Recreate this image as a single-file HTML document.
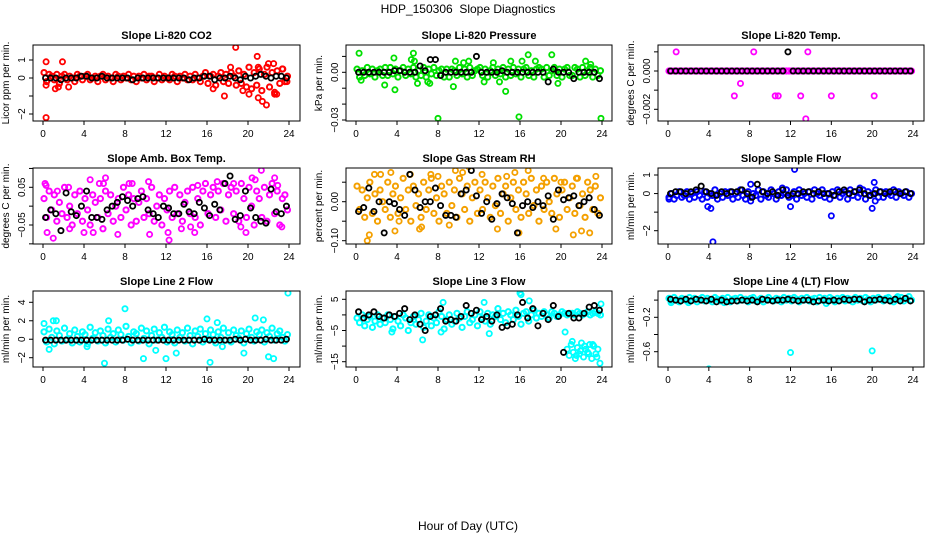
<!DOCTYPE html>
<html><head><meta charset="utf-8">
<style>
html,body{margin:0;padding:0;background:#fff;}
svg{display:block;font-family:"Liberation Sans",Arial,sans-serif;}
text{white-space:pre;}
</style></head>
<body>
<svg id="chart" width="936" height="540" viewBox="0 0 936 540" xmlns="http://www.w3.org/2000/svg">
<text x="468" y="13" font-size="12" text-anchor="middle">HDP_150306  Slope Diagnostics</text>
<text x="468" y="530" font-size="12" text-anchor="middle">Hour of Day (UTC)</text>
</svg>
<script>
// ---- data (hour of day on x) ----
const xTicks=[0,4,8,12,16,20,24];
// CO2
const co2Band=[0.3,-0.2,0.2,0.1,-0.1,0.2,-0.3,0.1,0.2,-0.1,0.1,0.0,
-0.2,0.2,0.1,-0.1,0.1,0.2,-0.1,0.0,0.1,-0.2,0.1,0.2,
-0.1,0.1,0.0,-0.2,0.2,0.1,-0.1,0.1,0.0,0.2,-0.1,0.1,
-0.2,0.1,0.0,0.2,-0.1,0.1,0.1,-0.2,0.0,0.2,-0.1,0.1,
0.0,-0.1,0.2,0.1,-0.2,0.1,0.0,0.2,-0.1,0.1,-0.1,0.2,
0.0,-0.2,0.1,0.3,-0.3,0.1,0.2,-0.4,0.1,0.3,-0.2,0.2,
-0.3,0.3,0.1,-0.4,0.4,-0.3,0.2,-0.5,0.6,-0.6,0.3,-0.4,
0.5,-0.7,0.2,0.6,-0.5,0.3,-0.8,0.4,-0.3,0.5,-0.2,0.1];
const co2OutT=[0.3,0.3,0.3,1.2,1.5,1.9,2.5,16.6,17.7,18.3,18.8,19.5,20.1,20.9,21.0,21.0,21.4,21.8,22.0,22.5,22.6,22.8,23.4,23.8];
const co2OutV=[0.9,-2.2,-0.4,-0.6,-0.5,0.9,-0.5,-0.6,-1.0,0.6,1.7,-0.7,-0.9,1.2,0.6,-1.1,-1.3,-1.5,0.8,0.8,-0.9,-0.9,0.5,-0.2];
const co2Mean=[0.0,0.0,0.0,-0.1,0.0,0.0,0.0,0.1,0.1,0.0,0.0,0.1,
0.0,0.0,0.0,0.0,0.0,-0.1,0.0,0.0,0.0,0.0,0.0,0.0,
0.0,0.0,0.0,0.0,-0.1,0.0,0.0,0.1,0.1,-0.1,0.0,0.0,
0.1,0.0,-0.1,0.1,0.0,0.1,0.2,0.1,0.0,0.1,0.1,0.0];
// Pressure
const prsBand=[0.002,-0.003,0.001,-0.002,0.003,-0.001,0.002,-0.003,0.001,0.002,-0.002,0.003,
-0.002,0.003,-0.001,0.002,-0.003,0.001,0.003,-0.002,0.002,-0.001,0.003,-0.003,
0.001,-0.002,0.003,-0.003,0.002,-0.001,0.003,-0.002,0.001,0.002,-0.003,0.002,
-0.003,0.002,0.001,-0.002,0.003,-0.001,0.002,-0.003,0.003,-0.002,0.001,0.002,
0.003,-0.002,0.002,-0.003,0.001,0.003,-0.002,0.002,-0.001,0.003,-0.003,0.002,
-0.002,0.003,-0.001,0.002,-0.003,0.002,0.003,-0.002,0.001,-0.003,0.002,0.003,
0.002,-0.003,0.003,-0.002,0.001,0.003,-0.002,0.002,-0.003,0.002,0.003,-0.002,
-0.002,0.003,0.002,-0.003,0.003,-0.002,0.001,0.003,-0.003,0.002,-0.002,0.001];
const prsOutT=[0.3,0.5,2.8,3.7,3.8,5.4,5.6,5.7,6.0,7.0,7.2,8.0,9.5,9.7,10.5,11.0,12.5,13.4,14.0,14.6,15.1,15.9,16.2,16.8,17.5,19.1,19.7,22.4,22.9,23.9];
const prsOutV=[0.012,-0.005,-0.008,0.009,-0.011,0.008,0.012,0.007,-0.007,-0.006,-0.007,-0.029,-0.009,0.007,0.006,0.007,-0.006,0.006,-0.006,-0.012,0.007,-0.028,0.007,0.011,0.007,0.011,-0.007,0.007,0.005,-0.029];
const prsMean=[0.000,0.000,0.000,0.000,0.000,0.000,0.000,0.001,0.001,0.000,0.000,0.000,
0.004,0.001,0.008,0.008,-0.002,0.000,0.000,0.000,0.000,0.000,0.000,0.010,
0.000,0.000,0.000,0.000,0.001,0.000,0.000,0.000,0.000,0.000,0.000,0.000,
0.000,-0.006,0.002,0.000,0.000,0.000,-0.004,0.000,0.000,0.000,0.000,-0.004];
// Li-820 temp
const tmpBand=[0,0,0,0,0,0,0,0,0,0,0,0,0,0,0,0,0,0,0,0,0,0,0,0,
0,0,0,0,0,0,0,0,0,0,0,0,0,0,0,0,0,0,0,0,0,0,0,0,
0,0,0,0,0,0,0,0,0,0,0,0,0,0,0,0,0,0,0,0,0,0,0,0,
0,0,0,0,0,0,0,0,0,0,0,0,0,0,0,0,0,0,0,0,0,0,0,0];
const tmpOutT=[0.8,6.5,7.1,8.4,10.5,10.8,13.0,13.5,13.7,16.0,20.2];
const tmpOutV=[0.001,-0.0013,-0.00065,0.001,-0.0013,-0.0013,-0.0013,-0.0025,0.001,-0.0013,-0.0013];
const tmpMean=[0,0,0,0,0,0,0,0,0,0,0,0,0,0,0,0,0,0,0,0,0,0,0,0.001,
0,0,0,0,0,0,0,0,0,0,0,0,0,0,0,0,0,0,0,0,0,0,0,0];
// Amb box temp
const ambBand=[0.02,-0.03,0.04,-0.01,0.03,-0.04,0.01,-0.02,0.05,-0.03,0.00,-0.05,
0.03,-0.02,0.04,-0.04,0.02,-0.01,-0.05,0.03,0.01,-0.03,0.02,-0.06,
0.04,-0.02,0.03,-0.04,0.00,0.02,-0.03,0.05,-0.01,0.03,-0.05,0.02,
-0.04,0.01,0.04,-0.03,0.02,-0.02,0.05,-0.04,0.00,0.03,-0.05,0.02,
-0.01,0.04,-0.03,0.05,-0.02,0.03,-0.04,0.01,0.04,-0.02,0.05,-0.03,
0.02,-0.05,0.04,0.06,-0.02,0.03,0.05,-0.03,0.04,-0.01,0.06,-0.04,
0.03,0.05,-0.02,0.04,-0.04,0.06,0.02,-0.03,0.05,0.00,-0.05,0.04,
0.02,-0.03,0.05,-0.04,0.03,0.06,-0.02,0.04,-0.05,0.02,0.03,-0.01];
const ambOutT=[0.2,0.4,0.3,1.0,1.4,2.5,2.6,4.0,4.6,4.9,5.5,5.9,6.1,7.3,8.4,8.7,10.3,10.4,12.3,12.2,13.5,14.4,14.8,15.1,17.0,18.6,19.3,19.8,20.4,20.7,21.3,22.6,22.9,23.3];
const ambOutV=[0.06,-0.07,0.055,-0.085,0.04,0.05,-0.06,-0.07,0.07,-0.07,0.06,0.06,0.075,-0.075,0.06,0.06,0.065,-0.075,-0.09,-0.07,-0.06,-0.055,-0.07,0.055,0.065,0.06,-0.055,-0.07,0.075,0.07,0.095,0.075,0.055,-0.055];
const ambMean=[-0.03,-0.01,-0.02,-0.065,0.035,-0.015,-0.025,0.0,0.04,-0.03,-0.03,-0.035,
-0.01,0.0,0.01,0.025,0.015,0.0,0.02,0.025,-0.01,-0.02,-0.03,0.0,
-0.005,-0.02,-0.02,0.005,-0.015,-0.02,0.01,-0.005,-0.025,0.005,-0.01,0.06,
0.08,-0.035,-0.025,0.04,-0.005,-0.03,-0.04,-0.045,0.045,-0.015,-0.02,0.0];
// Gas stream RH
const rhBand=[0.04,-0.02,0.03,-0.04,0.01,0.05,-0.03,0.02,-0.05,0.03,0.00,-0.02,
0.05,-0.04,0.02,0.04,-0.03,0.01,0.06,-0.02,0.03,-0.05,0.04,-0.01,
0.02,-0.04,0.05,-0.02,0.03,0.06,-0.03,0.01,-0.05,0.04,0.02,-0.03,
0.05,-0.01,0.03,-0.04,0.06,0.02,-0.02,0.04,-0.05,0.01,0.05,-0.03,
0.03,-0.02,0.05,0.01,-0.04,0.04,-0.01,0.06,-0.03,0.02,0.04,-0.05,
0.01,0.05,-0.02,0.03,-0.04,0.05,0.02,-0.03,0.06,-0.01,0.03,-0.05,
0.04,-0.02,0.05,0.00,-0.03,0.06,0.02,-0.04,0.03,0.05,-0.02,0.01,
0.04,-0.03,0.06,-0.01,0.02,-0.04,0.05,0.03,-0.02,0.04,-0.03,0.01];
const rhOutT=[1.1,1.3,1.8,2.4,3.4,3.8,4.2,5.3,6.2,6.4,7.3,8.0,9.1,9.7,10.4,11.0,12.3,13.8,14.7,15.5,15.9,16.8,18.3,19.5,20.0,21.2,21.5,22.0,22.8,23.4];
const rhOutV=[-0.1,-0.085,0.07,0.07,0.075,-0.075,-0.05,0.07,-0.07,-0.065,0.07,0.065,-0.06,0.08,0.075,0.09,0.07,-0.07,0.065,0.075,-0.08,0.08,0.06,-0.07,0.05,-0.085,0.06,-0.075,-0.08,0.065];
const rhMean=[-0.025,-0.015,0.035,-0.025,0.0,-0.08,0.0,-0.005,-0.02,-0.035,0.07,0.03,
-0.015,0.0,0.0,0.035,-0.01,-0.035,-0.035,-0.04,0.02,0.03,0.08,0.015,
-0.03,0.0,-0.045,-0.005,0.02,0.01,-0.005,-0.08,-0.01,0.0,-0.015,0.0,
-0.01,0.015,-0.045,0.03,0.005,0.01,0.015,-0.01,0.0,0.01,-0.02,-0.035];
// Sample flow
const sfBand=[-0.2,0.0,-0.3,-0.1,0.1,-0.2,-0.1,0.1,-0.3,0.0,-0.2,0.1,
-0.1,-0.3,0.1,-0.2,0.0,-0.1,0.2,-0.3,0.0,-0.2,0.1,-0.1,
0.1,-0.3,0.0,-0.2,0.2,-0.1,-0.3,0.1,-0.2,0.0,-0.1,0.2,
-0.3,0.1,-0.1,-0.2,0.2,0.0,-0.3,0.1,-0.1,0.0,0.2,-0.2,
-0.1,0.1,-0.3,0.2,-0.1,0.0,-0.2,0.1,-0.3,0.2,0.0,-0.1,
0.2,-0.2,0.0,-0.3,0.1,-0.1,0.2,-0.2,0.0,0.1,-0.3,0.2,
-0.1,0.1,-0.2,0.0,0.2,-0.3,0.1,-0.1,0.0,0.2,-0.2,0.1,
-0.2,0.1,0.0,-0.1,0.2,-0.2,0.1,0.0,-0.1,0.1,-0.2,0.0];
const sfOutT=[0.1,3.9,4.2,4.4,8.1,8.1,12.0,12.4,16.0,20.0,20.2,20.3,11.2,18.8];
const sfOutV=[-0.3,-0.7,-0.8,-2.6,0.5,-0.4,-0.7,1.3,-1.2,-0.8,0.6,-0.4,0.3,0.3];
const sfMean=[0.0,0.1,0.1,0.0,0.1,0.2,0.4,0.1,0.0,-0.1,0.1,0.0,
0.1,0.1,0.2,0.0,-0.2,0.5,0.1,0.0,0.1,-0.1,0.2,-0.1,
0.0,0.0,0.1,0.1,0.0,0.1,0.0,0.0,-0.1,0.1,0.2,0.0,
0.1,0.2,0.0,-0.1,0.0,0.1,0.0,0.1,0.1,0.0,0.1,0.0];
// Line 2 flow
const l2Band=[0.8,-0.3,1.1,0.2,-0.5,0.9,0.4,-0.2,1.2,0.0,0.6,-0.4,
1.0,0.3,-0.3,0.8,0.5,-0.5,1.3,0.1,0.7,-0.2,0.9,0.4,
-0.4,1.1,0.2,0.6,-0.3,1.0,0.5,-0.1,1.4,0.3,-0.4,0.8,
0.6,-0.2,1.2,0.1,0.9,-0.5,0.4,1.1,-0.1,0.7,0.2,1.3,
-0.3,0.8,0.5,-0.4,1.0,0.2,0.7,-0.2,1.2,0.4,-0.5,0.9,
0.3,1.1,-0.3,0.6,0.0,1.0,0.5,-0.4,0.8,0.2,1.2,-0.1,
0.7,-0.3,1.0,0.4,0.1,0.9,-0.4,0.6,1.1,0.2,-0.2,0.8,
0.5,1.0,-0.3,0.7,0.3,1.2,-0.1,0.6,0.9,0.2,-0.2,0.5];
const l2OutT=[0.1,0.6,1.0,1.3,4.3,6.0,6.4,8.0,9.8,11.0,12.0,13.0,16.0,16.3,17.0,17.5,19.6,20.7,21.5,22.0,22.5,23.9];
const l2OutV=[1.7,-1.1,2.0,2.0,-0.8,-2.6,2.0,3.3,-2.1,-1.2,-2.1,-1.5,2.2,-2.5,1.8,-0.8,-1.5,2.3,2.1,-1.9,-2.1,5.0];
const l2Mean=[-0.1,-0.1,-0.1,-0.1,-0.1,-0.1,-0.1,-0.1,-0.1,-0.1,-0.1,-0.1,
-0.1,-0.1,-0.1,-0.1,0.0,-0.1,-0.1,-0.1,-0.1,-0.1,-0.1,-0.1,
-0.1,-0.1,-0.1,-0.1,-0.1,-0.1,-0.1,0.0,-0.1,-0.1,-0.1,-0.1,
-0.1,0.0,-0.1,0.0,-0.1,-0.1,-0.1,0.0,-0.1,-0.1,-0.1,0.0];
// Line 3 flow
const l3Band=[-1.0,-2.5,0.0,-3.5,-1.5,-0.5,-4.0,-2.0,0.0,-3.0,-1.0,-2.5,
0.0,-1.5,-4.5,-0.5,-2.0,-3.5,0.0,-1.0,-5.0,-2.5,-0.5,-3.0,
-1.5,0.5,-4.0,-2.0,0.0,-3.5,-1.0,-2.5,1.0,-0.5,-4.5,-1.5,
0.0,-3.0,-2.0,0.5,-1.0,-4.0,-0.5,1.0,-2.5,-1.5,0.0,-3.5,
1.0,-1.0,-2.0,0.5,-3.0,0.0,-0.5,2.0,-1.5,0.5,-2.5,1.0,
0.0,-1.5,1.5,-0.5,-3.0,0.5,1.0,-2.0,0.0,1.5,-1.0,0.5,
-0.5,1.0,0.0,-1.0,1.0,0.5,-0.5,0.0,1.0,0.5,0.0,0.5,
0.5,0.0,1.0,0.5,0.0,0.5,1.0,0.0,0.5,1.0,0.5,0.0];
const l3OutT=[3.5,6.5,8.3,8.5,12.5,13.0,16.0,16.1,16.9,20.4,20.6,20.8,21.0,21.2,21.4,21.6,21.8,22.0,22.2,22.4,22.6,22.8,23.0,23.2,23.4,23.6,23.8,21.1,21.5,21.9,22.3,22.7,23.1,23.5,23.9];
const l3OutV=[-5.5,-8.0,-5.5,4.0,4.0,-6.0,7.0,6.5,4.5,-5.5,-11.0,-13.0,-9.5,-12.0,-14.0,-10.5,-12.5,-9.0,-13.5,-11.0,-12.0,-9.5,-14.0,-10.0,-12.5,-11.0,-15.5,-8.5,-13.0,-11.5,-10.0,-12.5,-9.5,-13.5,3.5];
const l3Mean=[1.0,-1.0,0.0,1.0,-0.5,-1.0,0.0,-0.5,0.5,2.0,-1.5,0.0,
-3.0,-5.0,-0.5,0.0,2.0,-2.0,-1.5,-2.0,-0.5,3.0,0.5,1.5,
-1.5,-0.5,-2.0,0.0,-4.0,-3.5,-3.0,0.0,4.0,-1.0,2.0,-3.5,
0.5,-1.5,3.0,-0.5,-12.0,0.5,-1.0,-1.0,0.5,2.5,3.0,1.5];
// Line 4 flow
const l4Band=[0.02,-0.01,0.03,0.00,-0.02,0.02,0.01,-0.01,0.03,0.00,0.02,-0.02,
0.01,0.03,-0.01,0.02,0.00,-0.02,0.03,0.01,-0.01,0.02,0.00,0.03,
-0.02,0.01,0.02,-0.01,0.03,0.00,0.01,-0.02,0.02,0.03,-0.01,0.00,
0.02,-0.02,0.01,0.03,0.00,-0.01,0.02,0.01,-0.02,0.03,0.00,0.02,
-0.01,0.03,0.01,-0.02,0.02,0.00,0.03,-0.01,0.01,0.02,-0.02,0.03,
0.00,0.02,-0.01,0.03,0.01,-0.02,0.02,0.00,0.03,-0.01,0.02,0.01,
-0.02,0.03,0.00,0.02,-0.01,0.03,0.01,-0.02,0.02,0.00,0.03,0.01,
-0.01,0.02,0.03,0.00,-0.02,0.02,0.01,0.03,-0.01,0.02,0.04,0.00];
const l4OutT=[0.3,2.0,4.0,5.5,12.0,15.5,20.0,22.5];
const l4OutV=[-0.03,-0.03,-0.8,-0.03,-0.61,-0.04,-0.59,0.04];
const l4Mean=[0.01,0.0,-0.01,0.01,-0.01,0.01,0.0,-0.01,0.01,-0.02,0.0,-0.02,
-0.01,-0.01,0.0,-0.01,0.0,-0.02,0.01,0.0,-0.01,0.0,0.0,0.01,
0.0,-0.01,0.0,0.0,-0.02,-0.01,0.0,-0.01,0.0,-0.01,0.01,0.0,
0.01,0.01,-0.02,0.0,0.0,0.01,0.0,-0.01,0.01,-0.01,0.02,-0.01];

// ---- layout ----
const NS="http://www.w3.org/2000/svg";
const svg=document.getElementById('chart');
const cols=[{x0:43,x24:289,L:33,R:300},{x0:356,x24:602,L:346,R:612},{x0:668,x24:913,L:658,R:924}];
const rows=[45,168,291];
const H=76;
const panels=[
 {name:'co2',title:'Slope Li-820 CO2',ylab:'Licor ppm per min.',c:0,r:0,color:'#ff0000',band:co2Band,ot:co2OutT,ov:co2OutV,mean:co2Mean,v1:1,y1:60,v2:-2,y2:114,ticks:[1,0,-1,-2],labs:['1','0','','−2']},
 {name:'pressure',title:'Slope Li-820 Pressure',ylab:'kPa per min.',c:1,r:0,color:'#00e000',band:prsBand,ot:prsOutT,ov:prsOutV,mean:prsMean,v1:0,y1:72.3,v2:-0.03,y2:120,ticks:[0.01,0,-0.01,-0.02,-0.03],labs:['','0.00','','','−0.03']},
 {name:'li820-temp',title:'Slope Li-820 Temp.',ylab:'degrees C per min.',c:2,r:0,color:'#ff00ff',band:tmpBand,ot:tmpOutT,ov:tmpOutV,mean:tmpMean,v1:0,y1:71,v2:-0.002,y2:109.3,ticks:[0.001,0,-0.001,-0.002],labs:['','0.000','','−0.002']},
 {name:'amb-box-temp',title:'Slope Amb. Box Temp.',ylab:'degrees C per min.',c:0,r:1,color:'#ff00ff',band:ambBand,ot:ambOutT,ov:ambOutV,mean:ambMean,v1:0.05,y1:187.3,v2:-0.05,y2:225,ticks:[0.1,0.05,0,-0.05,-0.1],labs:['','0.05','','−0.05','']},
 {name:'gas-stream-rh',title:'Slope Gas Stream RH',ylab:'percent per min.',c:1,r:1,color:'#f4a000',band:rhBand,ot:rhOutT,ov:rhOutV,mean:rhMean,v1:0,y1:201.7,v2:-0.1,y2:240.7,ticks:[0.05,0,-0.05,-0.1],labs:['','0.00','','−0.10']},
 {name:'sample-flow',title:'Slope Sample Flow',ylab:'ml/min per min.',c:2,r:1,color:'#0000ff',band:sfBand,ot:sfOutT,ov:sfOutV,mean:sfMean,v1:1,y1:175,v2:-2,y2:230.7,ticks:[1,0,-1,-2],labs:['1','0','','−2']},
 {name:'line2-flow',title:'Slope Line 2 Flow',ylab:'ml/min per min.',c:0,r:2,color:'#00ffff',band:l2Band,ot:l2OutT,ov:l2OutV,mean:l2Mean,v1:4,y1:302.3,v2:-2,y2:357.7,ticks:[4,2,0,-2],labs:['4','2','0','−2']},
 {name:'line3-flow',title:'Slope Line 3 Flow',ylab:'ml/min per min.',c:1,r:2,color:'#00ffff',band:l3Band,ot:l3OutT,ov:l3OutV,mean:l3Mean,v1:5,y1:299.3,v2:-15,y2:361.7,ticks:[5,0,-5,-10,-15],labs:['5','','−5','','−15']},
 {name:'line4-flow',title:'Slope Line 4 (LT) Flow',ylab:'ml/min per min.',c:2,r:2,color:'#00ffff',band:l4Band,ot:l4OutT,ov:l4OutV,mean:l4Mean,v1:-0.2,y1:317.3,v2:-0.6,y2:351.7,ticks:[0,-0.2,-0.4,-0.6],labs:['','−0.2','','−0.6']}
];
function mk(tag,attrs,parent){const e=document.createElementNS(NS,tag);for(const k in attrs)e.setAttribute(k,attrs[k]);(parent||svg).appendChild(e);return e;}
panels.forEach(p=>{
 const col=cols[p.c],top=rows[p.r],bot=top+H;
 const xs=t=>col.x0+(col.x24-col.x0)*t/24;
 const ys=v=>p.y1+(v-p.v1)*(p.y2-p.y1)/(p.v2-p.v1);
 const g=mk('g',{});
 
 
 const clip=mk('clipPath',{id:'clip-'+p.name},g);
 mk('rect',{x:col.L,y:top,width:col.R-col.L,height:H},clip);
 const tt=mk('text',{x:(col.L+col.R)/2,y:top-6,'font-size':11,'font-weight':'bold','text-anchor':'middle'},g);
 tt.textContent=p.title;
 
 
 const yl=mk('text',{transform:`translate(${col.L-24},${top+H/2}) rotate(-90)`,'font-size':10,'text-anchor':'middle'},g);
 yl.textContent=p.ylab;
 
 
 const pts=mk('g',{'clip-path':`url(#clip-${p.name})`,fill:'none'},g);
 p.band.forEach((v,i)=>{
  const c=mk('circle',{cx:xs(i*0.25+0.1),cy:ys(v),r:2.6,stroke:p.color,'stroke-width':2},pts);
  
  
 });
 p.ot.forEach((t,i)=>{
  const c=mk('circle',{cx:xs(t),cy:ys(p.ov[i]),r:2.6,stroke:p.color,'stroke-width':1.8},pts);
  
  
 });
 p.mean.forEach((v,i)=>{
  const c=mk('circle',{cx:xs(i*0.5+0.25),cy:ys(v),r:2.6,stroke:'#000','stroke-width':1.8},pts);
  
  
 });
 const box=mk('rect',{x:col.L,y:top,width:col.R-col.L,height:H,fill:'none',stroke:'#000','stroke-width':1},g);
 
 
 xTicks.forEach(t=>{
  mk('line',{x1:xs(t),x2:xs(t),y1:bot,y2:bot+4,stroke:'#000'},g);
  const l=mk('text',{x:xs(t),y:bot+16,'font-size':10,'text-anchor':'middle'},g);
  l.textContent=t;
  
  
 });
 p.ticks.forEach((v,i)=>{
  const y=ys(v);
  mk('line',{x1:col.L-4,x2:col.L,y1:y,y2:y,stroke:'#000'},g);
  if(p.labs[i]){
   const l=mk('text',{transform:`translate(${col.L-8},${y}) rotate(-90)`,'font-size':10,'text-anchor':'middle'},g);
   l.textContent=p.labs[i];
   
   
  }
 });
});
</script>
</body></html>
